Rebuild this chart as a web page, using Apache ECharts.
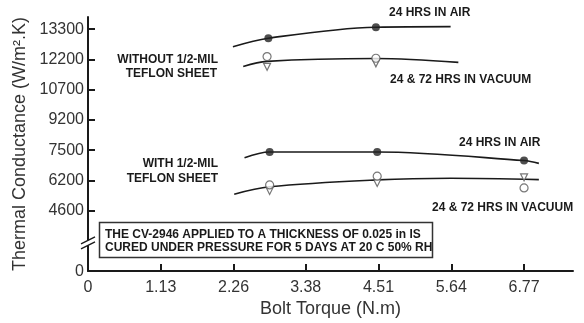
<!DOCTYPE html>
<html>
<head>
    <meta charset="utf-8"/>
    <title>Thermal conductance vs bolt torque</title>
    <script type="text/javascript" src="https://cdn.jsdelivr.net/npm/echarts@6.0.0/dist/echarts.min.js"></script>
    <style>
        html, body { margin: 0; padding: 0; background: #fff; }
        #chart { width: 584px; height: 323px; }
    </style>
</head>
<body>
<div id="chart"></div>
<script type="text/javascript">
// tick labels
var xTicks = [0, 1.13, 2.26, 3.38, 4.51, 5.64, 6.77];
// y axis is not linear in the original: every labelled value is one step apart, with a break below 4600
var yTickValues = [0, 4600, 6200, 7500, 9200, 10700, 12200, 13300];
var yTickSteps = [0, 2, 3, 4, 5, 6, 7, 8];

// curves [torque N.m, conductance W/m2.K]
var withoutAirLine = [[2.25, 12660], [2.8, 12970], [4.47, 13370], [5.63, 13390]];
var withoutVacLine = [[2.41, 11850], [2.78, 12100], [4.47, 12230], [5.75, 12050]];
var withAirLine = [[2.43, 7175], [2.82, 7420], [4.49, 7420], [6.77, 7050], [7.0, 6930]];
var withVacLine = [[2.27, 5470], [2.82, 5860], [4.49, 6220], [5.63, 6290], [7.0, 6230]];

// measured points
var airPoints = [[2.8, 12970], [4.47, 13370], [2.82, 7420], [4.49, 7420], [6.77, 7050]];
var vac24Points = [[2.78, 12300], [4.47, 12240], [2.82, 5960], [4.49, 6380], [6.77, 5800]];
var vac72Points = [[2.78, 11830], [4.47, 12000], [2.82, 5640], [4.49, 6060], [6.77, 6330]];

var breakStep = 0.9;

// conductance -> step position on the y axis
function yStep(v) {
    var i = 1;
    while (i < yTickValues.length - 1 && v > yTickValues[i]) i++;
    var v0 = yTickValues[i - 1], v1 = yTickValues[i];
    var s0 = yTickSteps[i - 1], s1 = yTickSteps[i];
    return s0 + (v - v0) / (v1 - v0) * (s1 - s0);
}
function toSteps(arr) {
    return arr.map(function (p) { return [p[0], yStep(p[1])]; });
}

var ink = '#1a1a1a';
var noteFont = { fontFamily: 'Liberation Sans, Arial, sans-serif', fontWeight: 'bold', fontSize: 12, fill: ink };

function note(x, y, text, align) {
    return {
        type: 'text', x: x, y: y, z: 10,
        style: Object.assign({ text: text, textAlign: align || 'left', textVerticalAlign: 'middle' }, noteFont)
    };
}

function curve(data) {
    return {
        type: 'line', data: toSteps(data), smooth: 0.35, showSymbol: false, silent: true,
        lineStyle: { color: ink, width: 1.6 }
    };
}

var chart = echarts.init(document.getElementById('chart'));

var option = {
    animation: false,
    backgroundColor: '#fff',
    grid: { left: 88, right: 11, top: 17, bottom: 49 },
    xAxis: {
        type: 'value', min: 0, max: 7.53,
        name: 'Bolt Torque (N.m)', nameLocation: 'middle', nameGap: 26,
        nameTextStyle: { fontFamily: 'Liberation Sans, Arial, sans-serif', fontSize: 18, color: '#333' },
        axisLine: { lineStyle: { color: ink, width: 2 } },
        axisTick: { inside: true, length: 7, customValues: xTicks, lineStyle: { color: ink, width: 2 } },
        axisLabel: {
            customValues: xTicks, margin: 8, fontSize: 16, color: '#333',
            fontFamily: 'Liberation Sans, Arial, sans-serif',
            formatter: function (v) { return v === 0 ? '0' : v.toFixed(2); }
        },
        splitLine: { show: false }
    },
    yAxis: {
        type: 'value', min: 0, max: 8.4,
        name: 'Thermal Conductance (W/m\u00b2.K)', nameLocation: 'middle', nameGap: 42,
        nameTextStyle: { fontFamily: 'Liberation Sans, Arial, sans-serif', fontSize: 18, color: '#333' },
        axisLine: { lineStyle: { color: ink, width: 2 } },
        axisTick: { inside: true, length: 7, customValues: yTickSteps.slice(1), lineStyle: { color: ink, width: 2 } },
        axisLabel: {
            customValues: yTickSteps, margin: 4, fontSize: 16, color: '#333',
            fontFamily: 'Liberation Sans, Arial, sans-serif',
            formatter: function (v) {
                var i = yTickSteps.indexOf(Math.round(v));
                return i < 0 ? '' : String(yTickValues[i]);
            }
        },
        splitLine: { show: false }
    },
    series: [
        curve(withoutAirLine),
        curve(withoutVacLine),
        curve(withAirLine),
        curve(withVacLine),
        {
            type: 'scatter', data: toSteps(vac72Points), symbol: 'triangle', symbolSize: 7, symbolRotate: 180,
            itemStyle: { color: '#fff', borderColor: '#555', borderWidth: 1.2 }, z: 3
        },
        {
            type: 'scatter', data: toSteps(vac24Points), symbol: 'circle', symbolSize: 8,
            itemStyle: { color: '#fff', borderColor: '#555', borderWidth: 1.2 }, z: 4
        },
        {
            type: 'scatter', data: toSteps(airPoints), symbol: 'circle', symbolSize: 8,
            itemStyle: { color: '#222' }, z: 5
        }
    ]
};

chart.setOption(option);

// axis break mark and annotations
var b = chart.convertToPixel({ gridIndex: 0 }, [0, breakStep]);
var bx = b[0], by = b[1];
chart.setOption({
    graphic: [
        { type: 'polygon', z: 20, shape: { points: [[bx - 7, by + 5], [bx + 7, by - 2], [bx + 7, by - 7], [bx - 7, by]] }, style: { fill: '#fff' } },
        { type: 'line', z: 21, shape: { x1: bx - 7, y1: by + 5, x2: bx + 7, y2: by - 2 }, style: { stroke: ink, lineWidth: 1.4 } },
        { type: 'line', z: 21, shape: { x1: bx - 7, y1: by, x2: bx + 7, y2: by - 7 }, style: { stroke: ink, lineWidth: 1.4 } },

        note(389, 13, '24 HRS IN AIR'),
        note(218, 60, 'WITHOUT 1/2-MIL', 'right'),
        note(217, 74, 'TEFLON SHEET', 'right'),
        note(390, 80, '24 & 72 HRS IN VACUUM'),
        note(459, 143, '24 HRS IN AIR'),
        note(218, 164, 'WITH 1/2-MIL', 'right'),
        note(218, 179, 'TEFLON SHEET', 'right'),
        note(432, 208, '24 & 72 HRS IN VACUUM'),

        { type: 'rect', z: 10, shape: { x: 99.5, y: 222.5, width: 333, height: 35 }, style: { fill: '#fff', stroke: '#333', lineWidth: 1.5 } },
        note(105, 235, 'THE CV-2946 APPLIED TO A THICKNESS OF 0.025 in IS'),
        note(105, 248, 'CURED UNDER PRESSURE FOR 5 DAYS AT 20 C 50% RH')
    ]
});
</script>
</body>
</html>
